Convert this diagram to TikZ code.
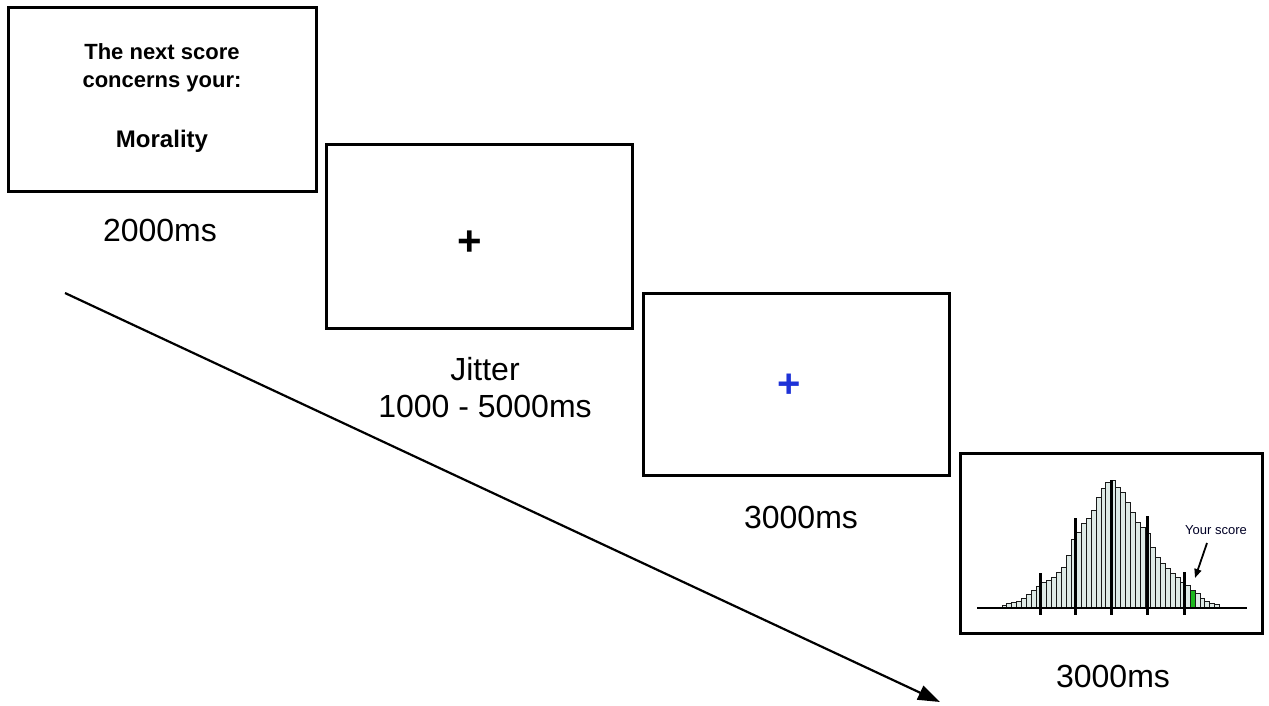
\documentclass[tikz,border=0pt]{standalone}
\usepackage{fontspec}
\setmainfont{Liberation Sans}
\usetikzlibrary{arrows.meta}
\definecolor{barfill}{RGB}{222,234,230}
\definecolor{crossblue}{RGB}{30,50,215}
\definecolor{scoregreen}{RGB}{30,185,30}
\tikzset{
  screen/.style={draw, line width=3pt, fill=white, inner sep=0pt},
  timelabel/.style={inner sep=0pt, font=\fontsize{32}{37}\selectfont, align=center},
  promptline/.style={inner sep=0pt, anchor=base, font=\bfseries\fontsize{22}{24}\selectfont},
  bar/.style={draw=black!90, line width=1pt, fill=barfill},
  sdline/.style={line width=3pt, black},
}
\begin{document}
\begin{tikzpicture}[x=1pt,y=-1pt]
\useasboundingbox (0,0) rectangle (1269,706);
% screens
\node[screen, minimum width=308pt, minimum height=183pt] (s1) at (162,99.5) {};
\node[screen, minimum width=306pt, minimum height=183pt] (s2) at (479,236.5) {};
\node[screen, minimum width=306pt, minimum height=182pt] (s3) at (796,384) {};
\node[screen, minimum width=302pt, minimum height=180pt] (s4) at (1111,543) {};
% screen 1 text
\node[promptline] (p1) at (162,60) {The next score};
\node[promptline] (p2) at (162,88) {concerns your:};
\node[promptline, font=\bfseries\fontsize{24}{28}\selectfont] (p3) at (162,147) {Morality};
% crosses
\node[inner sep=0pt, font=\bfseries\fontsize{42}{44}\selectfont] (c2) at (470,243) {+};
\node[inner sep=0pt, text=crossblue, font=\bfseries\fontsize{40}{44}\selectfont] (c3) at (789,386) {+};
% time labels
\node[timelabel] (t1) at (160,230) {2000ms};
\node[timelabel] (t2) at (485,388) {Jitter\\1000 - 5000ms};
\node[timelabel] (t3) at (801,517) {3000ms};
\node[timelabel] (t4) at (1113,676) {3000ms};
% time arrow
\coordinate (a0) at (65,293);
\coordinate (a1) at (940,702);
\draw[line width=2.2pt, -{Triangle[length=22pt,width=15pt]}] (a0) -- (a1);
% histogram
\foreach \h [count=\i] in {3,5,6,7,10,14,18,22,26,28,31,36,41,53,69,76,85,90,98,111,120,126,128,121,116,106,96,86,81,75,61,51,45,40,35,31,26,23,18,15,10,7,5,4} {
  \pgfmathsetmacro\xl{1002+(\i-1)*4.95}
  \ifnum\i=39
    \draw[bar, fill=scoregreen] (\xl,608) rectangle ++(4.95,-\h);
  \else
    \draw[bar] (\xl,608) rectangle ++(4.95,-\h);
  \fi
}
\coordinate (b0) at (977,608);
\coordinate (b1) at (1247,608);
\draw[line width=2.5pt] (b0) -- (b1);
\foreach \x/\t in {1040/573,1075/518,1111/480,1147/516,1184/572} {
  \draw[sdline] (\x,\t) -- (\x,615);
}
\node[inner sep=0pt, text=black!85!blue, font=\fontsize{13}{14}\selectfont] (ys) at (1216,530) {Your score};
\coordinate (ya) at (1207,543);
\coordinate (yb) at (1195,578);
\draw[line width=1.8pt, -{Triangle[length=9pt,width=7pt]}] (ya) -- (yb);
\end{tikzpicture}
\end{document}
